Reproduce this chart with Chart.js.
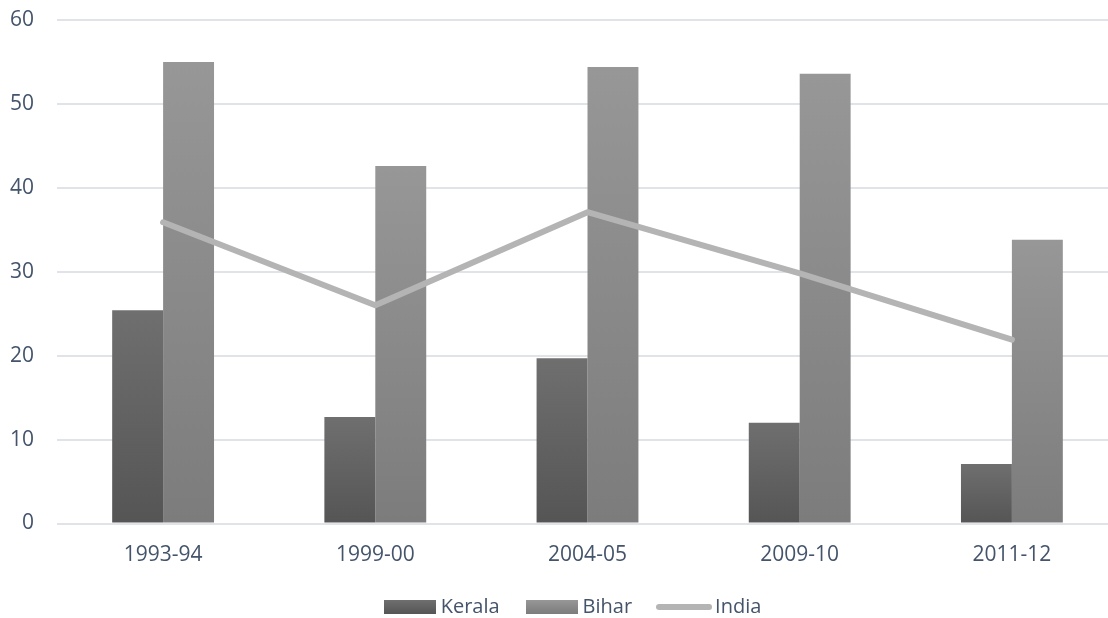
<!DOCTYPE html>
<html>
<head>
<meta charset="utf-8">
<script src="https://cdn.jsdelivr.net/npm/chart.js@4.4.1/dist/chart.umd.min.js"></script>
<style>
  html, body { margin: 0; padding: 0; background: #ffffff; overflow: hidden; }
  #wrap { width: 1118px; height: 618px; }
</style>
</head>
<body>
<div id="wrap"><canvas id="chart" width="1118" height="618"></canvas></div>
<script>
// Survey years
const categories = ['1993-94', '1999-00', '2004-05', '2009-10', '2011-12'];
// Percentages per year
const keralaValues = [25.4, 12.7, 19.7, 12.0, 7.1];
const biharValues  = [55.0, 42.6, 54.4, 53.6, 33.8];
const indiaValues  = [35.9, 26.0, 37.1, 29.8, 21.9];
// Value axis ticks
const yTicks = [0, 10, 20, 30, 40, 50, 60];

const TEXT = '#44546a';
const GRID = '#e0e4e9';
const FAMILY = "'Open Sans', 'Noto Sans', sans-serif";
const TICK_FONT = { family: FAMILY, size: 21 };
const LEGEND_FONT = { family: FAMILY, size: 20 };

const KERALA = ['#6f6f6f', '#555555'];
const BIHAR = ['#979797', '#7c7c7c'];
const INDIA = '#b4b4b4';

// Vertical gradient for a bar, darker at its base
function barGradient(context, cols) {
  const chart = context.chart;
  const y = chart.scales.y;
  if (context.type !== 'data' || !y) return cols[1];
  const top = y.getPixelForValue(context.raw);
  const bottom = y.getPixelForValue(0);
  if (!isFinite(top) || !isFinite(bottom) || top === bottom) return cols[1];
  const g = chart.ctx.createLinearGradient(0, top, 0, bottom);
  g.addColorStop(0, cols[0]);
  g.addColorStop(1, cols[1]);
  return g;
}

// Small canvases used as legend swatches
function swatchBox(cols) {
  const c = document.createElement('canvas');
  c.width = 52; c.height = 14;
  const x = c.getContext('2d');
  const g = x.createLinearGradient(0, 0, 0, 14);
  g.addColorStop(0, cols[0]);
  g.addColorStop(1, cols[1]);
  x.fillStyle = g;
  x.fillRect(0, 0, 52, 14);
  return c;
}
function swatchLine(color) {
  const c = document.createElement('canvas');
  c.width = 56; c.height = 8;
  const x = c.getContext('2d');
  x.strokeStyle = color;
  x.lineWidth = 6;
  x.lineCap = 'round';
  x.beginPath();
  x.moveTo(3, 4);
  x.lineTo(53, 4);
  x.stroke();
  return c;
}

// Nudges the centred legend row sideways
const legendShift = {
  id: 'legendShift',
  afterLayout(chart, args, opts) {
    const lg = chart.legend;
    if (!lg) return;
    lg.left += opts.dx || 0;
    lg.right += opts.dx || 0;
  }
};

new Chart(document.getElementById('chart'), {
  type: 'bar',
  data: {
    labels: categories,
    datasets: [
      {
        label: 'Kerala',
        data: keralaValues,
        backgroundColor: (c) => barGradient(c, KERALA),
        borderWidth: 0,
        barPercentage: 1,
        categoryPercentage: 0.48,
        order: 1,
        pointStyle: swatchBox(KERALA)
      },
      {
        label: 'Bihar',
        data: biharValues,
        backgroundColor: (c) => barGradient(c, BIHAR),
        borderWidth: 0,
        barPercentage: 1,
        categoryPercentage: 0.48,
        order: 1,
        pointStyle: swatchBox(BIHAR)
      },
      {
        type: 'line',
        label: 'India',
        data: indiaValues,
        borderColor: INDIA,
        backgroundColor: INDIA,
        borderWidth: 6,
        borderCapStyle: 'round',
        borderJoinStyle: 'round',
        pointRadius: 0,
        pointHoverRadius: 0,
        tension: 0,
        fill: false,
        order: 0,
        pointStyle: swatchLine(INDIA)
      }
    ]
  },
  options: {
    responsive: false,
    animation: false,
    devicePixelRatio: 1,
    layout: { padding: { top: 20, right: 0, bottom: 0, left: 0 } },
    plugins: {
      tooltip: { enabled: false },
      legendShift: { dx: 16 },
      legend: {
        position: 'bottom',
        maxHeight: 52,
        labels: {
          usePointStyle: true,
          pointStyleWidth: 42,
          boxHeight: 14,
          padding: 31,
          color: TEXT,
          font: LEGEND_FONT,
          sort: (a, b) => a.datasetIndex - b.datasetIndex
        }
      }
    },
    scales: {
      x: {
        grid: { display: false, drawTicks: false },
        border: { display: false },
        ticks: { color: TEXT, font: TICK_FONT, padding: 19, maxRotation: 0 },
        afterFit(scale) { scale.height = 42.5; }
      },
      y: {
        min: 0,
        max: 60,
        afterBuildTicks(scale) { scale.ticks = yTicks.map(v => ({ value: v })); },
        grid: {
          color: GRID,
          lineWidth: 2,
          drawTicks: true,
          tickLength: 23,
          tickColor: 'rgba(0,0,0,0)'
        },
        border: { display: false },
        ticks: { color: TEXT, font: TICK_FONT, padding: 0 },
        afterFit(scale) { scale.width = 57; }
      }
    }
  },
  plugins: [legendShift]
});
</script>
</body>
</html>
